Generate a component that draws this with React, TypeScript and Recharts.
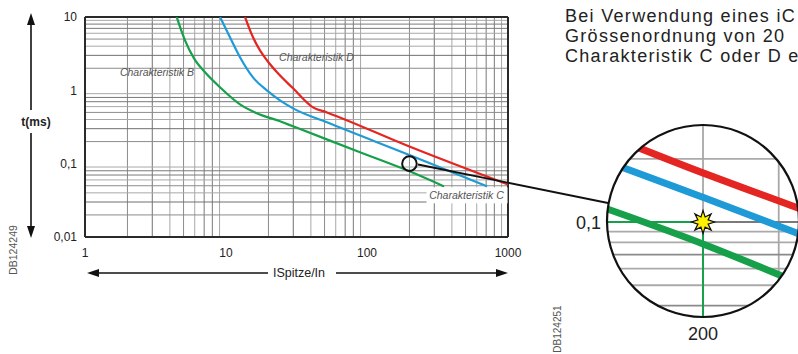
import React from "react";
import { LineChart, Line, XAxis, YAxis, ReferenceLine, ReferenceDot } from "recharts";

// tripping curves, I = ISpitze/In, t in ms
const curveB = [
  { i: 4.47, t: 10 },
  { i: 5.12, t: 4.81 },
  { i: 5.93, t: 2.73 },
  { i: 7.1, t: 1.76 },
  { i: 9.07, t: 1.1 },
  { i: 12.57, t: 0.644 },
  { i: 16.06, t: 0.5 },
  { i: 24.15, t: 0.378 },
  { i: 29.9, t: 0.323 },
  { i: 89.2, t: 0.143 },
  { i: 202, t: 0.078 },
  { i: 352, t: 0.049 },
];

const curveC = [
  { i: 9.07, t: 10 },
  { i: 10.67, t: 5.29 },
  { i: 12.57, t: 2.82 },
  { i: 15.54, t: 1.5 },
  { i: 19.5, t: 1.0 },
  { i: 24.15, t: 0.73 },
  { i: 29.9, t: 0.568 },
  { i: 52, t: 0.366 },
  { i: 202, t: 0.13 },
  { i: 710, t: 0.049 },
];

const curveD = [
  { i: 13.64, t: 10 },
  { i: 15.54, t: 5.29 },
  { i: 17.42, t: 3.51 },
  { i: 19.5, t: 2.57 },
  { i: 23, t: 1.76 },
  { i: 29.9, t: 1.065 },
  { i: 41.4, t: 0.586 },
  { i: 52, t: 0.5 },
  { i: 202, t: 0.17 },
  { i: 1000, t: 0.052 },
];

const ticksX = [1, 10, 100, 1000];
const ticksY = [0.01, 0.1, 1, 10];
const tickLabelsY = ["0,01", "0,1", "1", "10"];

const gridMultipliers = [2, 3, 4, 5, 6, 7, 8, 9];
const gridDecadesX = [1, 10, 100];
const gridDecadesY = [0.01, 0.1, 1];

// magnified detail around the point 200 / 0,1
const zoomI = 200;
const zoomT = 0.1;
const zoomGridT = [0.2, 0.09, 0.08, 0.07, 0.06, 0.05, 0.04];
const zoomGridI = [300];

const RED = "#e42521";
const BLUE = "#1e9bd7";
const GREEN = "#17a04a";

const gridColor: Record<number, string> = {
  2: "#8c8c8c",
  3: "#707070",
  4: "#a8a8a8",
  5: "#8c8c8c",
  6: "#a8a8a8",
  7: "#7a7a7a",
  8: "#7a7a7a",
  9: "#a8a8a8",
};

const gridX = gridDecadesX.flatMap((d) => gridMultipliers.map((m) => ({ v: m * d, c: gridColor[m] })));
const gridY = gridDecadesY.flatMap((d) => gridMultipliers.map((m) => ({ v: m * d, c: gridColor[m] })));

const FONT = "'Liberation Sans', Arial, Helvetica, sans-serif";

function curveLabel(text: string, boxed = false) {
  return (props: any) => {
    const { cx, cy } = props;
    return (
      <g>
        {boxed && <rect x={cx - 40} y={cy - 8} width={81} height={16} fill="#fff" />}
        <text
          x={cx}
          y={cy}
          textAnchor="middle"
          dominantBaseline="central"
          fontSize={10.5}
          fontStyle="italic"
          fill="#555"
        >
          {text}
        </text>
      </g>
    );
  };
}

function Star(props: any) {
  const { cx, cy } = props;
  const pts: string[] = [];
  for (let k = 0; k < 16; k++) {
    const a = (k * Math.PI) / 8 - Math.PI / 2;
    const r = k % 2 === 0 ? 11.5 : 5.5;
    pts.push(`${cx + r * Math.cos(a)},${cy + r * Math.sin(a)}`);
  }
  return <polygon points={pts.join(" ")} fill="#fff200" stroke="#111" strokeWidth={1.2} />;
}

function MainChart() {
  return (
    <LineChart width={540} height={290} margin={{ top: 17, right: 32, bottom: 23, left: 45 }}>
      <XAxis
        dataKey="i"
        type="number"
        scale="log"
        domain={[1, 1000]}
        ticks={ticksX}
        interval={0}
        allowDataOverflow
        tickLine={false}
        axisLine={false}
        height={30}
        tickMargin={5}
        tick={{ fontSize: 12, fill: "#222" }}
      />
      <YAxis
        dataKey="t"
        type="number"
        scale="log"
        domain={[0.01, 10]}
        ticks={ticksY}
        interval={0}
        allowDataOverflow
        tickLine={false}
        axisLine={false}
        width={40}
        tick={{ fontSize: 12, fill: "#222" }}
        tickFormatter={(v: number) => tickLabelsY[ticksY.indexOf(v)] ?? String(v)}
      />
      {gridX.map((g) => (
        <ReferenceLine key={"gx" + g.v} x={g.v} stroke={g.c} strokeWidth={1} />
      ))}
      {gridY.map((g) => (
        <ReferenceLine key={"gy" + g.v} y={g.v} stroke={g.c} strokeWidth={1} />
      ))}
      <ReferenceLine x={1} stroke="#2a2a2a" strokeWidth={2} />
      <ReferenceLine x={1000} stroke="#2a2a2a" strokeWidth={2} />
      <ReferenceLine y={0.01} stroke="#2a2a2a" strokeWidth={2} />
      <ReferenceLine y={10} stroke="#2a2a2a" strokeWidth={2} />

      <ReferenceDot x={508} y={0.037} r={0} shape={curveLabel("Charakteristik C", true)} />
      <Line data={curveD} dataKey="t" type="monotone" stroke={RED} strokeWidth={2.2} dot={false} isAnimationActive={false} />
      <Line data={curveC} dataKey="t" type="monotone" stroke={BLUE} strokeWidth={2.2} dot={false} isAnimationActive={false} />
      <Line data={curveB} dataKey="t" type="monotone" stroke={GREEN} strokeWidth={2.2} dot={false} isAnimationActive={false} />
      <ReferenceDot x={3.24} y={1.76} r={0} shape={curveLabel("Charakteristik B")} />
      <ReferenceDot x={43.8} y={2.82} r={0} shape={curveLabel("Charakteristik D")} />
      <ReferenceDot x={zoomI} y={zoomT} r={7.3} fill="none" stroke="#111" strokeWidth={2} />
    </LineChart>
  );
}

function ZoomChart() {
  return (
    <LineChart width={192} height={192} margin={{ top: 0, right: 0, bottom: 0, left: 0 }}>
      <XAxis dataKey="i" type="number" scale="log" domain={[119.6, 334.4]} allowDataOverflow hide />
      <YAxis dataKey="t" type="number" scale="log" domain={[0.0353, 0.2897]} allowDataOverflow hide width={0} />
      {zoomGridI.map((v) => (
        <ReferenceLine key={"zx" + v} x={v} stroke="#a8a8a8" strokeWidth={1.8} />
      ))}
      {zoomGridT.map((v) => (
        <ReferenceLine key={"zy" + v} y={v} stroke={v === 0.07 || v === 0.04 ? "#8a8a8a" : "#aaaaaa"} strokeWidth={1.8} />
      ))}
      <ReferenceLine segment={[{ x: zoomI, y: zoomT }, { x: 400, y: zoomT }]} stroke="#7a7a7a" strokeWidth={2} ifOverflow="hidden" />
      <ReferenceLine segment={[{ x: zoomI, y: zoomT }, { x: zoomI, y: 0.5 }]} stroke="#a8a8a8" strokeWidth={1.8} ifOverflow="hidden" />
      <Line data={curveD} dataKey="t" type="monotone" stroke={RED} strokeWidth={7} dot={false} isAnimationActive={false} />
      <Line data={curveC} dataKey="t" type="monotone" stroke={BLUE} strokeWidth={7} dot={false} isAnimationActive={false} />
      <Line data={curveB} dataKey="t" type="monotone" stroke={GREEN} strokeWidth={7} dot={false} isAnimationActive={false} />
      <ReferenceLine segment={[{ x: 100, y: zoomT }, { x: zoomI, y: zoomT }]} stroke={GREEN} strokeWidth={2} ifOverflow="hidden" />
      <ReferenceLine segment={[{ x: zoomI, y: zoomT }, { x: zoomI, y: 0.02 }]} stroke={GREEN} strokeWidth={2} ifOverflow="hidden" />
      <ReferenceDot x={zoomI} y={zoomT} r={11} shape={(p: any) => <Star {...p} />} />
    </LineChart>
  );
}

function Overlay() {
  return (
    <svg width={798} height={354} style={{ position: "absolute", left: 0, top: 0, pointerEvents: "none" }}>
      {/* t axis arrow */}
      <line x1={31} y1={22} x2={31} y2={110} stroke="#111" strokeWidth={1.6} />
      <polygon points="31,13 27,25 35,25" fill="#111" />
      <line x1={31} y1={133} x2={31} y2={228} stroke="#111" strokeWidth={1.6} />
      <polygon points="31,238 27,226 35,226" fill="#111" />
      <text x={36} y={122} textAnchor="middle" dominantBaseline="central" fontSize={12} fontWeight="bold" fill="#222">
        t(ms)
      </text>
      <text x={12.5} y={250} textAnchor="middle" dominantBaseline="central" fontSize={10.5} fill="#555" transform="rotate(-90 12.5 250)">
        DB124249
      </text>

      {/* current axis arrow */}
      <line x1={96} y1={273} x2={268} y2={273} stroke="#111" strokeWidth={1.6} />
      <polygon points="87,273 99,269 99,277" fill="#111" />
      <line x1={336} y1={273} x2={499} y2={273} stroke="#111" strokeWidth={1.6} />
      <polygon points="508,273 496,269 496,277" fill="#111" />
      <text x={299} y={273} textAnchor="middle" dominantBaseline="central" fontSize={12.5} fill="#222">
        ISpitze/In
      </text>

      {/* connector to the magnifier */}
      <line x1={418} y1={164.5} x2={608} y2={203} stroke="#111" strokeWidth={1.8} />
      <circle cx={703} cy={221} r={96} fill="none" stroke="#111" strokeWidth={2.2} />
      <text x={601} y={222.5} textAnchor="end" dominantBaseline="central" fontSize={18} fill="#222">
        0,1
      </text>
      <text x={703} y={334} textAnchor="middle" dominantBaseline="central" fontSize={18} fill="#222">
        200
      </text>
      <text x={557} y={329} textAnchor="middle" dominantBaseline="central" fontSize={10} fill="#555" transform="rotate(-90 557 329)">
        DB124251
      </text>
    </svg>
  );
}

export default function App() {
  return (
    <div
      style={{
        position: "absolute",
        left: 0,
        top: 0,
        width: 798,
        height: 354,
        overflow: "hidden",
        background: "#fff",
        fontFamily: FONT,
      }}
    >
      <div style={{ position: "absolute", left: 0, top: 0 }}>
        <MainChart />
      </div>
      <div
        style={{
          position: "absolute",
          left: 607,
          top: 125,
          width: 192,
          height: 192,
          clipPath: "circle(96px at 96px 96px)",
          background: "#fff",
        }}
      >
        <ZoomChart />
      </div>
      <Overlay />
      <div
        style={{
          position: "absolute",
          left: 565,
          top: 6,
          fontSize: 18,
          lineHeight: "20px",
          letterSpacing: 1.3,
          color: "#222",
          whiteSpace: "nowrap",
        }}
      >
        <div>Bei Verwendung eines iC</div>
        <div>Grössenordnung von 20</div>
        <div>Charakteristik C oder D e</div>
      </div>
    </div>
  );
}
